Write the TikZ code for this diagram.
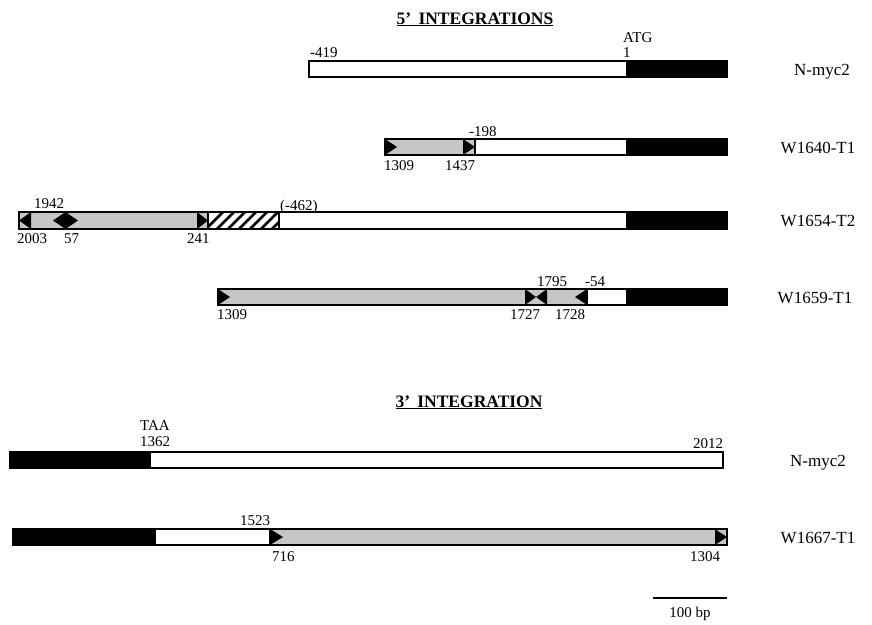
\documentclass[tikz,border=0pt]{standalone}
\usepackage{fontspec}
\setmainfont{Liberation Serif}
\begin{document}
\begin{tikzpicture}[x=1pt,y=-1pt,
  bar/.style={draw=black,line width=1.2pt},
  gry/.style={bar,fill=gray!45},
  wht/.style={bar,fill=white},
  blk/.style={bar,fill=black},
  tip/.style={fill=black},
  lbl/.style={font=\fontsize{15}{17}\selectfont,inner sep=0pt,anchor=base west},
  nm/.style={font=\fontsize{17}{19}\selectfont,inner sep=0pt,anchor=base},
  ttl/.style={font=\fontsize{17.5}{20}\selectfont\bfseries,inner sep=0pt,anchor=base}]
\useasboundingbox (0,0) rectangle (872,624);

% titles
\node[ttl] (t5) at (475,24) {\underline{5'\, INTEGRATIONS}};
\node[ttl] (t3) at (469,407) {\underline{3'\, INTEGRATION}};

% ---- row 1: N-myc2
\draw[wht] (309,61) rectangle (627,77);
\draw[blk] (627,61) rectangle (727,77);
\node[lbl] (r1a) at (310,57) {-419};
\node[lbl] (r1b) at (623,42) {ATG};
\node[lbl] (r1c) at (623,57) {1};
\node[nm] (n1) at (822,75) {N-myc2};

% ---- row 2: W1640-T1
\draw[gry] (385,139) rectangle (475,155);
\draw[wht] (475,139) rectangle (627,155);
\draw[blk] (627,139) rectangle (727,155);
\fill[tip] (385,139) -- (397,147) -- (385,155) -- cycle;
\fill[tip] (463,139) -- (475,147) -- (463,155) -- cycle;
\node[lbl] (r2a) at (469,136) {-198};
\node[lbl] (r2b) at (384,170) {1309};
\node[lbl] (r2c) at (445,170) {1437};
\node[nm] (n2) at (818,153) {W1640-T1};

% ---- row 3: W1654-T2
\draw[gry] (19,212) rectangle (208,229);
\draw[wht] (279,212) rectangle (627,229);
\draw[blk] (627,212) rectangle (727,229);
\begin{scope}
  \clip (208,212) rectangle (279,229);
  \foreach \k in {0,...,8} {
    \draw[line width=2.8pt] ({202+\k*11},233) -- ({227+\k*11},208);
  }
\end{scope}
\draw[bar] (208,212) rectangle (279,229);
\fill[tip] (19,220.5) -- (31,212) -- (31,229) -- cycle;
\fill[tip] (53,220.5) -- (65.5,212) -- (78,220.5) -- (65.5,229) -- cycle;
\fill[tip] (197,212) -- (208,220.5) -- (197,229) -- cycle;
\node[lbl] (r3a) at (34,208) {1942};
\node[lbl] (r3b) at (280,210) {(-462)};
\node[lbl] (r3c) at (17,243) {2003};
\node[lbl] (r3d) at (64,243) {57};
\node[lbl] (r3e) at (187,243) {241};
\node[nm] (n3) at (818,226) {W1654-T2};

% ---- row 4: W1659-T1
\draw[gry] (218,289) rectangle (587,305);
\draw[wht] (587,289) rectangle (627,305);
\draw[blk] (627,289) rectangle (727,305);
\fill[tip] (218,289) -- (230,297) -- (218,305) -- cycle;
\fill[tip] (525,289) -- (536,297) -- (525,305) -- cycle;
\fill[tip] (547,289) -- (536,297) -- (547,305) -- cycle;
\fill[tip] (587,289) -- (575,297) -- (587,305) -- cycle;
\node[lbl] (r4a) at (537,286) {1795};
\node[lbl] (r4b) at (585,286) {-54};
\node[lbl] (r4c) at (217,319) {1309};
\node[lbl] (r4d) at (510,319) {1727};
\node[lbl] (r4e) at (555,319) {1728};
\node[nm] (n4) at (815,303) {W1659-T1};

% ---- row 5: N-myc2 (3')
\draw[blk] (10,452) rectangle (150,468);
\draw[wht] (150,452) rectangle (723,468);
\node[lbl] (r5a) at (140,430) {TAA};
\node[lbl] (r5b) at (140,446) {1362};
\node[lbl] (r5c) at (693,448) {2012};
\node[nm] (n5) at (818,466) {N-myc2};

% ---- row 6: W1667-T1
\draw[blk] (13,529) rectangle (155,545);
\draw[wht] (155,529) rectangle (270,545);
\draw[gry] (270,529) rectangle (727,545);
\fill[tip] (270,529) -- (283,537) -- (270,545) -- cycle;
\fill[tip] (715,529) -- (727,537) -- (715,545) -- cycle;
\node[lbl] (r6a) at (240,525) {1523};
\node[lbl] (r6b) at (272,561) {716};
\node[lbl] (r6c) at (690,561) {1304};
\node[nm] (n6) at (818,543) {W1667-T1};

% scale bar
\coordinate (sb1) at (653,598);
\coordinate (sb2) at (727,598);
\draw[line width=2.4pt] (sb1) -- (sb2);
\node[nm,font=\fontsize{15}{17}\selectfont] (sbl) at (690,617) {100 bp};
\end{tikzpicture}
\end{document}
